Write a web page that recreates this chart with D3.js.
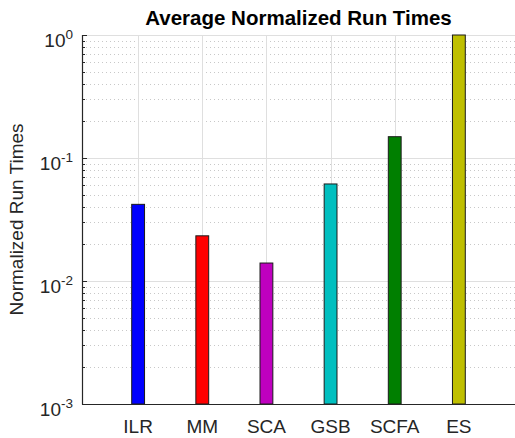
<!DOCTYPE html>
<html><head><meta charset="utf-8">
<script src="https://cdn.jsdelivr.net/npm/d3@7"></script>
<style>body{margin:0;background:#fff;} text{font-family:"Liberation Sans",Arial,Helvetica,sans-serif;}</style>
</head><body>
<svg id="c" width="515" height="438"></svg>
<script>
const categories = ["ILR","MM","SCA","GSB","SCFA","ES"];
const values = [0.042, 0.0233, 0.014, 0.0615, 0.149, 1.0];
const colors = ["#0000ff","#ff0000","#bf00bf","#00bfbf","#007f00","#bfbf00"];
const yTickExps = [-3,-2,-1,0];
const title = "Average Normalized Run Times";
const yLabel = "Normalized Run Times";

const svg = d3.select("#c");
const L = 82, R = 515, T = 35, B = 404;
const x = d3.scaleLinear().domain([0.125, 6.875]).range([L, R]);
const y = d3.scaleLog().domain([1e-3, 1]).range([B, T]);
const axisCol = "#262626";

// minor grid
const minor = [];
for (let e = -3; e < 0; e++) for (let m = 2; m <= 9; m++) minor.push(m * Math.pow(10, e));
svg.append("g").selectAll("line").data(minor).join("line")
  .attr("x1", L).attr("x2", R)
  .attr("y1", d => Math.round(y(d)) + 0.5).attr("y2", d => Math.round(y(d)) + 0.5)
  .attr("stroke", "#c8c8c8").attr("stroke-width", 1).attr("stroke-dasharray", "1,3");
// major grid
svg.append("g").selectAll("line").data(yTickExps.map(e => Math.pow(10, e))).join("line")
  .attr("x1", L).attr("x2", R)
  .attr("y1", d => Math.round(y(d)) + 0.5).attr("y2", d => Math.round(y(d)) + 0.5)
  .attr("stroke", "#dfdfdf").attr("stroke-width", 1);
svg.append("g").selectAll("line").data(categories).join("line")
  .attr("x1", (d, i) => Math.round(x(i + 1)) + 0.5).attr("x2", (d, i) => Math.round(x(i + 1)) + 0.5)
  .attr("y1", T).attr("y2", B)
  .attr("stroke", "#dfdfdf").attr("stroke-width", 1);

// bars
const bw = x(1.2) - x(1);
svg.append("g").selectAll("rect").data(values).join("rect")
  .attr("x", (d, i) => x(i + 1) - bw / 2)
  .attr("width", bw)
  .attr("y", d => y(d))
  .attr("height", d => y(1e-3) - y(d))
  .attr("fill", (d, i) => colors[i])
  .attr("stroke", "#1a1a1a").attr("stroke-width", 1);

// axes
const gy = svg.append("g").attr("transform", `translate(${L},0)`);
gy.append("line").attr("x1", 0.5).attr("x2", 0.5).attr("y1", T).attr("y2", B + 0.5)
  .attr("stroke", axisCol).attr("stroke-width", 1.2);
gy.selectAll("line.mn").data(minor).join("line").attr("class", "mn")
  .attr("x1", 0).attr("x2", 3).attr("y1", d => Math.round(y(d)) + 0.5).attr("y2", d => Math.round(y(d)) + 0.5)
  .attr("stroke", axisCol);
gy.selectAll("line.mj").data(yTickExps).join("line").attr("class", "mj")
  .attr("x1", 0).attr("x2", 5).attr("y1", d => Math.round(y(Math.pow(10, d))) + 0.5).attr("y2", d => Math.round(y(Math.pow(10, d))) + 0.5)
  .attr("stroke", axisCol);
const yl = gy.selectAll("text").data(yTickExps).join("text")
  .attr("x", -9).attr("y", d => y(Math.pow(10, d)) + 12)
  .attr("text-anchor", "end").attr("fill", axisCol).attr("font-size", 19);
yl.append("tspan").text("10");
yl.append("tspan").attr("dy", -8).attr("font-size", 13.5).text(d => d);

const gx = svg.append("g");
gx.append("line").attr("x1", L).attr("x2", R).attr("y1", B + 0.5).attr("y2", B + 0.5)
  .attr("stroke", axisCol).attr("stroke-width", 1.2);
gx.selectAll("text").data(categories).join("text")
  .attr("x", (d, i) => x(i + 1)).attr("y", 432.5)
  .attr("text-anchor", "middle").attr("fill", axisCol).attr("font-size", 19)
  .text(d => d);

svg.append("text").attr("x", (L + R) / 2).attr("y", 25)
  .attr("text-anchor", "middle").attr("font-weight", "bold").attr("font-size", 20.5)
  .attr("fill", "#000").text(title);
svg.append("text").attr("transform", `translate(23,${(T + B) / 2}) rotate(-90)`)
  .attr("text-anchor", "middle").attr("fill", axisCol).attr("font-size", 19)
  .text(yLabel);
</script>
</body></html>
